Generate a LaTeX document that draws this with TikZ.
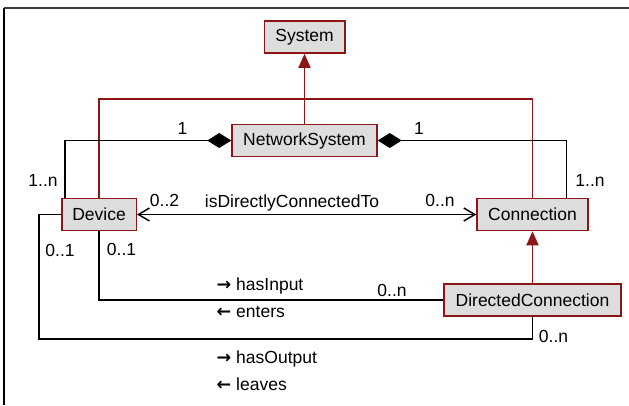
\documentclass[tikz,border=0pt]{standalone}
\usepackage{fontspec}
\setmainfont{Liberation Sans}
\newfontfamily\arrowfont{DejaVu Sans}
\usetikzlibrary{arrows.meta}
\definecolor{boxred}{RGB}{140,22,22}
\definecolor{boxfill}{RGB}{221,221,221}
\newcommand{\rarr}{{\arrowfont\bfseries →}}
\newcommand{\larr}{{\arrowfont\bfseries ←}}
\tikzset{
  cls/.style={draw=boxred, line width=1.5pt, fill=boxfill, minimum height=32pt, inner sep=0pt, font=\fontsize{17.5}{20}\selectfont},
  lbl/.style={inner sep=0pt, font=\fontsize{17.5}{20}\selectfont},
  gen/.style={draw=boxred, line width=1.7pt},
  genarrow/.style={gen, -{Triangle[length=14pt,width=12pt]}},
  assoc/.style={draw=black, line width=1.5pt},
  comp/.style={assoc, -{Diamond[length=24pt,width=15pt]}},
  nav/.style={assoc, {Straight Barb[length=11pt,width=13pt]}-{Straight Barb[length=11pt,width=13pt]}}
}
\begin{document}
\begin{tikzpicture}[x=1pt,y=-1pt]
\useasboundingbox (0,0) rectangle (629,405);
\fill[white] (0,0) rectangle (629,405);
% frame
\draw[line width=2pt, draw={rgb,255:red,60;green,60;blue,60}] (3.5,7.5) -- (629,7.5);
\draw[line width=1.5pt] (4,7.5) -- (4,405);

% classes
\node[cls, minimum width=80.5pt] (sys) at (304.5,37) {System};
\node[cls, minimum width=145pt] (ns) at (304.5,140.5) {NetworkSystem};
\node[cls, minimum width=74.5pt] (dev) at (99,214.5) {Device};
\node[cls, minimum width=111pt] (con) at (532.5,214.5) {Connection};
\node[cls, minimum width=177pt] (dc) at (532.5,300) {DirectedConnection};

\coordinate (join) at (304.5,99);

% generalizations
\draw[gen] (dev.north) |- (join);
\draw[gen] (con.north) |- (join);
\draw[genarrow] (ns.north) -- (sys.south);
\draw[genarrow] (dc.north) -- (con.south);

% compositions
\draw[comp] ([xshift=-34pt]dev.north) |- (ns.west);
\draw[comp] ([xshift=34pt]con.north) |- (ns.east);

% isDirectlyConnectedTo
\draw[nav] (dev.east) -- (con.east -| con.west);

% hasInput / enters
\draw[assoc] (dev.south) |- (dc.west);
% hasOutput / leaves
\coordinate (lo) at (39,339);
\draw[assoc] (dev.west) -| (lo) -| (dc.south);

% labels
\node[lbl] (m1) at (182.5,128) {1};
\node[lbl] (m2) at (419,128) {1};
\node[lbl] (m3) at (43,180) {1..n};
\node[lbl] (m4) at (590,180) {1..n};
\node[lbl] (m5) at (164.5,200) {0..2};
\node[lbl] (a1) at (292,202.5) {isDirectlyConnectedTo};
\node[lbl] (m6) at (440,200) {0..n};
\node[lbl] (m7) at (60,250.5) {0..1};
\node[lbl] (m8) at (121.5,249.5) {0..1};
\node[lbl, anchor=west] (a2) at (216.5,286) {\rarr\ hasInput};
\node[lbl, anchor=west] (a3) at (216.5,311.5) {\larr\ enters};
\node[lbl] (m9) at (392,290) {0..n};
\node[lbl] (m10) at (553.5,336) {0..n};
\node[lbl, anchor=west] (a4) at (216.5,359) {\rarr\ hasOutput};
\node[lbl, anchor=west] (a5) at (216.5,384) {\larr\ leaves};
\end{tikzpicture}
\end{document}
